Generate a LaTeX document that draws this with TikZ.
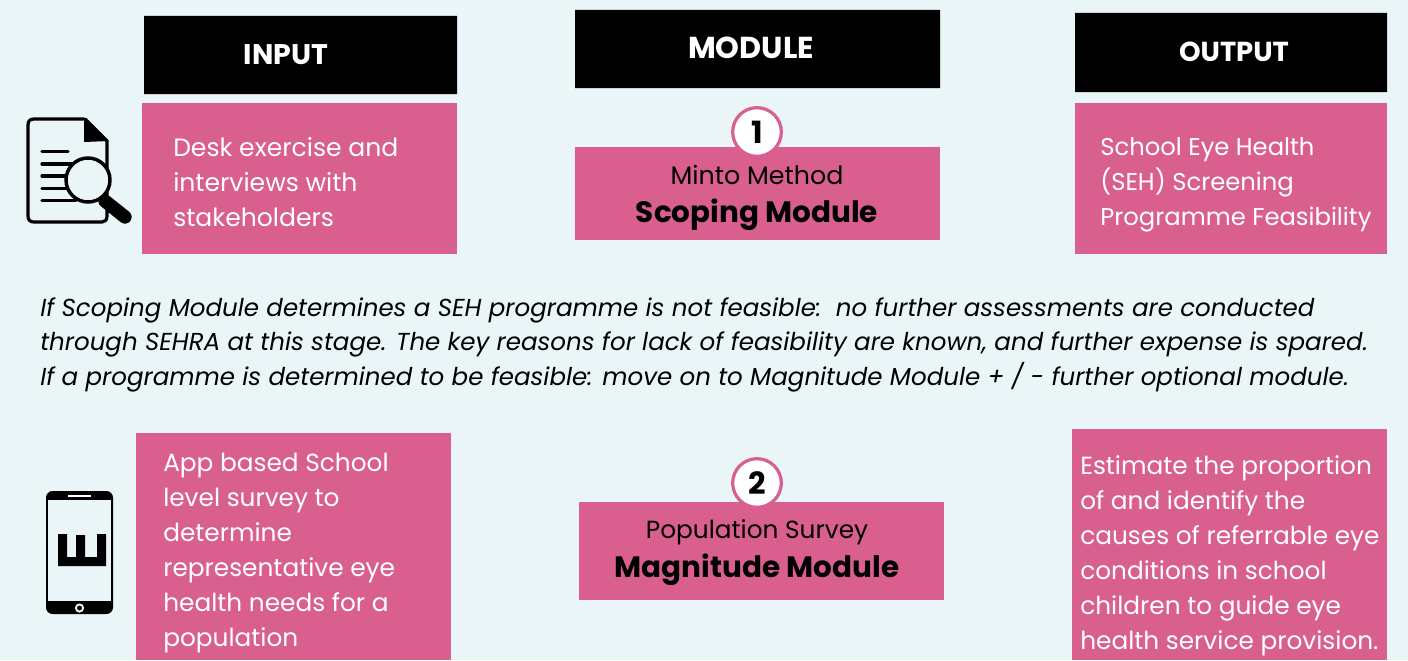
\documentclass[tikz,border=0pt]{standalone}
\usepackage{fontspec}
\setmainfont{Poppins}
\definecolor{bgc}{HTML}{E9F5F7}
\definecolor{pinkc}{HTML}{D95F8E}
\tikzset{
 head/.style={text=white,font=\fontsize{21.3}{26}\selectfont\bfseries,inner sep=0pt},
 bodytext/.style={anchor=north west,align=left,inner sep=0pt,text=white,font=\fontsize{18.8}{26.2}\selectfont},
 modtext/.style={anchor=center,align=center,inner sep=0pt,text=black},
 numc/.style={circle,draw=pinkc,line width=2.4pt,fill=white,minimum size=36.5pt,inner sep=0pt,font=\fontsize{23}{26}\selectfont\bfseries},
 note/.style={anchor=north west,align=left,inner sep=0pt,text=black,font=\fontsize{18.4}{26.2}\selectfont\itshape},
 ink/.style={draw=black,line width=2.4pt,line cap=round,line join=round}
}
\begin{document}
\begin{tikzpicture}[x=0.75pt,y=-0.75pt]
\fill[bgc] (0,0) rectangle (1408,660);
\useasboundingbox (0,0) rectangle (1408,660);
% headers
\path[fill=black] (144,16) rectangle (457,94) (575,10) rectangle (940,88) (1075,13) rectangle (1387,92);
\node[head] (hi) at (286,55) {INPUT};
\node[head,font=\fontsize{22.7}{26}\selectfont\bfseries] (hm) at (751,48) {MODULE};
\node[head,font=\fontsize{20.6}{26}\selectfont\bfseries] (ho) at (1234,52) {OUTPUT};
% pink boxes
\fill[pinkc] (142,103) rectangle (457,254);
\fill[pinkc] (575,147) rectangle (940,240);
\fill[pinkc] (1075,103) rectangle (1387,254);
\fill[pinkc] (136,433) rectangle (451,660);
\fill[pinkc] (579,502) rectangle (944,600);
\fill[pinkc] (1072,429) rectangle (1387,660);
% body text
\node[bodytext] (t1) at (173,137) {Desk exercise and\\interviews with\\stakeholders};
\node[bodytext,font=\fontsize{18.2}{26.2}\selectfont] (t2) at (1100,137) {School Eye Health\\(SEH) Screening\\Programme Feasibility};
\node[bodytext,font=\fontsize{18.6}{26.2}\selectfont] (t3) at (163,453) {App based School\\level survey to\\determine\\representative eye\\health needs for a\\population};
\node[bodytext,font=\fontsize{18.6}{26.2}\selectfont] (t4) at (1080,455.5) {Estimate the proportion\\of and identify the\\causes of referrable eye\\conditions in school\\children to guide eye\\health service provision.};
% modules
\node[modtext,font=\fontsize{19}{24}\selectfont] (m1a) at (757,175) {Minto Method};
\node[modtext,font=\fontsize{22.1}{28}\selectfont\bfseries] (m1b) at (757,215) {Scoping Module};
\node[modtext,font=\fontsize{18.6}{24}\selectfont] (m2a) at (757,532) {Population Survey};
\node[modtext,font=\fontsize{22.1}{28}\selectfont\bfseries] (m2b) at (757,570) {Magnitude Module};
\node[numc] (n1) at (757,132) {1};
\node[numc] (n2) at (757,483) {2};
% note
\node[note] (nt) at (40,297) {If Scoping Module determines a SEH programme is not feasible:\ \ no further assessments are conducted\\through SEHRA at this stage. The key reasons for lack of feasibility are known, and further expense is spared.\\If a programme is determined to be feasible: move on to Magnitude Module + / - further optional module.};
% document icon
\draw[ink] (84,119) -- (34,119) .. controls (30,119) and (28,121) .. (28,125) -- (28,216) .. controls (28,220) and (30,222) .. (34,222) -- (102,222) .. controls (105,222) and (107,220) .. (107,216) -- (107,141) -- (85,119);
\fill[black] (84,118) -- (109,141) -- (84,142) -- cycle;
\foreach \yy/\xe in {151.5/68,164/72,176/68,188.5/68,200.5/76}
  \draw[black,line width=2.4pt,line cap=round] (42,\yy) -- (\xe,\yy);
\draw[black,line width=10pt,line cap=round] (105,201) -- (125,217);
\draw[black,line width=2.6pt,fill=bgc] (88,180) circle[radius=22];
% phone icon
\fill[black,rounded corners=5pt] (46,491) rectangle (113,614);
\fill[bgc] (48,500) rectangle (111,601);
\fill[white] (68,495.2) rectangle (91,497);
\draw[bgc,line width=1.4pt] (79.5,608) circle[radius=3.6];
\fill[black] (58,534) -- (67,534) -- (67,557) -- (76,557) -- (76,535) -- (85,535) -- (85,557) -- (97,557) -- (97,534) -- (106,534) -- (106,566) -- (58,566) -- cycle;
\end{tikzpicture}
\end{document}
